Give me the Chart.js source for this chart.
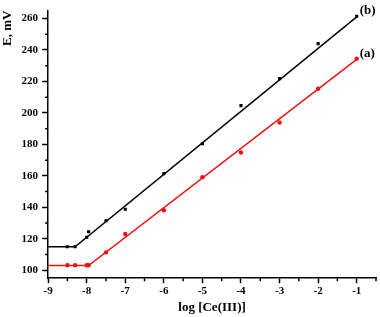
<!DOCTYPE html>
<html>
<head>
<meta charset="utf-8">
<script src="https://cdn.jsdelivr.net/npm/chart.js@4/dist/chart.umd.min.js"></script>
<style>
  html, body { margin: 0; padding: 0; background: #fff; }
  #wrap { width: 380px; height: 317px; }
</style>
</head>
<body>
<div id="wrap"><canvas id="chart"></canvas></div>
<script>
// measured points, log [Ce(III)] vs E (mV)
const logConcB = [-8.5, -8.3, -8.0, -7.95, -7.5, -7, -6, -5, -4, -3, -2, -1];
const potentialB = [115, 115, 121, 124.5, 131.5, 138.8, 161.4, 180.4, 204.6, 221.8, 244, 261.4];
const logConcA = [-8.5, -8.3, -8.0, -7.95, -7.5, -7, -6, -5, -4, -3, -2, -1];
const potentialA = [103.2, 103.2, 103.2, 103.2, 111.4, 123.1, 138.2, 159.1, 174.9, 193.9, 215.4, 234.4];

// fitted segments (flat part + linear part)
const fitXB = [-9, -8.3, -1];
const fitYB = [115, 115, 261];
const fitXA = [-9, -7.95, -1];
const fitYA = [103, 103, 234];

const xTicks = [-9, -8, -7, -6, -5, -4, -3, -2, -1];
const xMinorTicks = [-8.5, -7.5, -6.5, -5.5, -4.5, -3.5, -2.5, -1.5, -0.5];
const yTicks = [100, 120, 140, 160, 180, 200, 220, 240, 260];
const yMinorTicks = [110, 130, 150, 170, 190, 210, 230, 250];

const RED = '#f01010';
const FONT = 'Liberation Serif';

const toXY = (xs, ys) => xs.map((x, i) => ({x: x, y: ys[i]}));

// curve labels and minor ticks
const extras = {
  id: 'extras',
  afterDraw(chart) {
    const {ctx, scales} = chart;
    const xs = scales.x, ys = scales.y;
    ctx.save();
    ctx.strokeStyle = '#000';
    ctx.lineWidth = 1.5;
    ctx.beginPath();
    xMinorTicks.forEach(v => {
      const px = xs.getPixelForValue(v);
      ctx.moveTo(px, xs.top);
      ctx.lineTo(px, xs.top + 3);
    });
    yMinorTicks.forEach(v => {
      const py = ys.getPixelForValue(v);
      ctx.moveTo(ys.right, py);
      ctx.lineTo(ys.right - 3, py);
    });
    ctx.stroke();

    ctx.font = 'bold 13px "' + FONT + '"';
    ctx.fillStyle = '#000';
    ctx.textBaseline = 'middle';
    const lb = chart.getDatasetMeta(0).data[logConcB.length - 1];
    const la = chart.getDatasetMeta(1).data[logConcA.length - 1];
    ctx.fillText('(b)', lb.x + 3, lb.y - 6);
    ctx.fillText('(a)', la.x + 3, la.y - 5);
    ctx.restore();
  }
};

new Chart(document.getElementById('chart'), {
  type: 'scatter',
  data: {
    datasets: [
      {
        data: toXY(logConcB, potentialB),
        pointStyle: 'rect',
        pointRadius: 2.2,
        backgroundColor: '#000',
        borderColor: '#000',
        borderWidth: 0
      },
      {
        data: toXY(logConcA, potentialA),
        pointStyle: 'circle',
        pointRadius: 2.2,
        backgroundColor: RED,
        borderColor: RED,
        borderWidth: 0
      },
      {
        data: toXY(fitXB, fitYB),
        showLine: true,
        pointRadius: 0,
        borderColor: '#000',
        borderWidth: 1.5
      },
      {
        data: toXY(fitXA, fitYA),
        showLine: true,
        pointRadius: 0,
        borderColor: RED,
        borderWidth: 1.5
      }
    ]
  },
  options: {
    responsive: true,
    maintainAspectRatio: false,
    animation: false,
    layout: {padding: {top: 3, right: 2, left: 0, bottom: 0}},
    plugins: {
      legend: {display: false},
      tooltip: {enabled: false}
    },
    scales: {
      x: {
        type: 'linear',
        min: -9,
        max: -0.5,
        afterBuildTicks: (scale) => { scale.ticks = xTicks.map(v => ({value: v})); },
        grid: {drawOnChartArea: false, drawTicks: true, tickLength: 5, tickColor: '#000', tickWidth: 1.5},
        border: {display: true, color: '#000', width: 1.5},
        ticks: {
          color: '#000',
          padding: 1,
          maxRotation: 0,
          font: {family: FONT, size: 11, weight: 'bold'}
        },
        title: {
          display: true,
          text: 'log [Ce(III)]',
          color: '#000',
          padding: {top: 1, bottom: 2},
          font: {family: FONT, size: 13, weight: 'bold'}
        }
      },
      y: {
        type: 'linear',
        min: 95,
        max: 265,
        afterBuildTicks: (scale) => { scale.ticks = yTicks.map(v => ({value: v})); },
        grid: {drawOnChartArea: false, drawTicks: true, tickLength: 6, tickColor: '#000', tickWidth: 1.5},
        border: {display: true, color: '#000', width: 1.5},
        ticks: {
          color: '#000',
          padding: 4,
          font: {family: FONT, size: 11, weight: 'bold'}
        },
        title: {
          display: true,
          text: 'E, mV',
          align: 'end',
          color: '#000',
          padding: {top: 0, bottom: 2},
          font: {family: FONT, size: 13, weight: 'bold'}
        }
      }
    }
  },
  plugins: [extras]
});
</script>
</body>
</html>
